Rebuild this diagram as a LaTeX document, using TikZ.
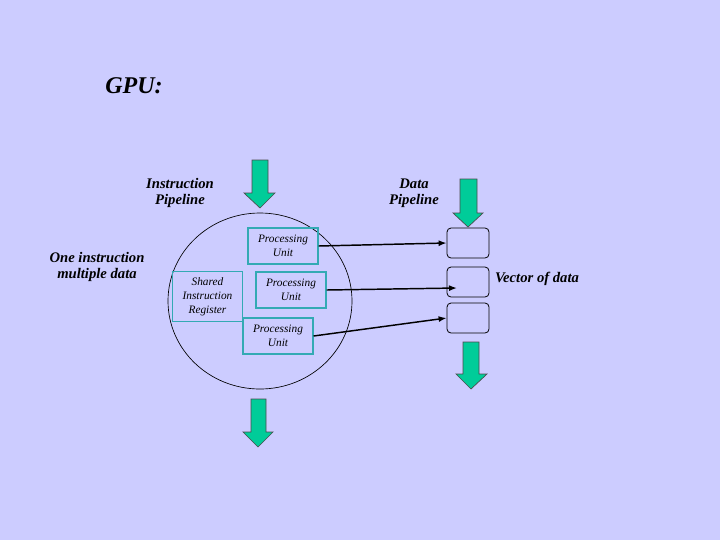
\documentclass[tikz,border=0pt]{standalone}
\usepackage{fontspec}
\setmainfont{Liberation Serif}
\usetikzlibrary{arrows.meta}
\definecolor{bg}{RGB}{204,204,255}
\definecolor{agreen}{RGB}{0,204,153}
\definecolor{teal}{RGB}{51,170,180}
\tikzset{
  lbl/.style={font=\fontsize{11}{12}\selectfont\bfseries\itshape, align=center, inner sep=0pt},
  pubox/.style={draw=teal, line width=0.8pt, align=center, inner sep=0pt, font=\fontsize{8.5}{10.5}\selectfont\itshape},
  vbox/.style={draw=black, rounded corners=3pt, line width=0.6pt, inner sep=0pt},
  blockarrow/.style={fill=agreen, draw=black!70, line width=0.5pt},
  conn/.style={line width=1.1pt, -{Latex[length=6pt,width=4.5pt]}}
}
\begin{document}
\begin{tikzpicture}[x=0.75pt,y=-0.75pt]
\fill[bg] (0,0) rectangle (720,540);
\useasboundingbox (0,0) rectangle (720,540);

% title and labels
\node[lbl, font=\fontsize{18}{20}\selectfont\bfseries\itshape] (title) at (134,86) {GPU:};
\node[lbl] (ipl) at (180,193) {Instruction\\Pipeline};
\node[lbl] (dpl) at (414,193) {Data\\Pipeline};
\node[lbl] (oimd) at (97,267) {One instruction\\multiple data};
\node[lbl] (vod) at (537,279) {Vector of data};

% circle
\draw[line width=0.5pt] (260,301) ellipse [x radius=92, y radius=88];

% processing units
\node[pubox, minimum width=52.5pt, minimum height=27pt] (pu1) at (283,246) {Processing\\Unit};
\node[pubox, minimum width=52.5pt, minimum height=27pt] (pu2) at (291,290) {Processing\\Unit};
\node[pubox, minimum width=52.5pt, minimum height=27pt] (pu3) at (278,336) {Processing\\Unit};
\node[pubox, minimum width=53pt, minimum height=38pt] (sir) at (207.5,296.5) {Shared\\Instruction\\Register};

% vector boxes
\node[vbox, minimum width=31.5pt, minimum height=22.5pt] (v1) at (468,243) {};
\node[vbox, minimum width=31.5pt, minimum height=22.5pt] (v2) at (468,282) {};
\node[vbox, minimum width=31.5pt, minimum height=22.5pt] (v3) at (468,318) {};

% connectors
\draw[conn] (pu1.east) -- (v1.west);
\coordinate (v2in) at (457,288);
\draw[conn] (pu2.east) -- (v2in);
\draw[conn] (pu3.east) -- (v3.west);

% block arrows
\draw[blockarrow] (252,160) -- (268,160) -- (268,193) -- (275,193) -- (260,208) -- (244,193) -- (252,193) -- cycle;
\draw[blockarrow] (251,399) -- (266,399) -- (266,432) -- (273,432) -- (258,447) -- (243,432) -- (251,432) -- cycle;
\draw[blockarrow] (460,179) -- (477,179) -- (477,213) -- (483,213) -- (468,227) -- (453,213) -- (460,213) -- cycle;
\draw[blockarrow] (463,342) -- (479,342) -- (479,374) -- (487,374) -- (471,389) -- (456,374) -- (463,374) -- cycle;
\end{tikzpicture}
\end{document}
